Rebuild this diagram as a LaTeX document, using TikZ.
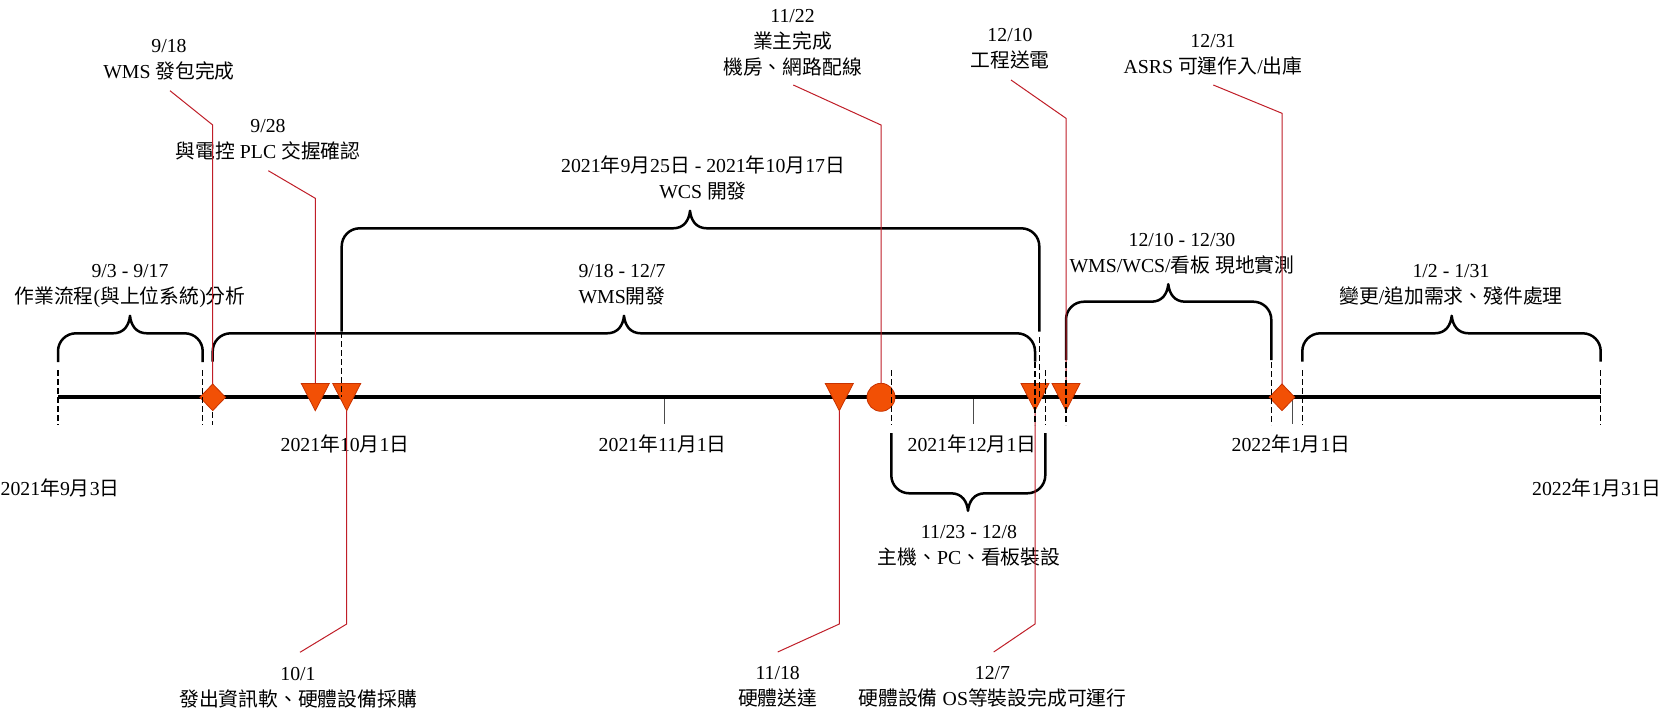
\documentclass[tikz,border=0pt]{standalone}
\usepackage{fontspec}
\setmainfont{Liberation Serif}
\newfontfamily\cjk{Noto Sans CJK TC}
\usetikzlibrary{shapes.geometric}
\newcommand\zh[1]{{\cjk #1}}
\newcommand\sv{\rule[-5pt]{0pt}{23pt}}
\definecolor{markfill}{RGB}{242,80,5}
\definecolor{markdraw}{RGB}{200,50,0}
\definecolor{calloutred}{RGB}{192,30,40}
% brace: xL xR xtip yh yend dir(+1 tip up, -1 tip down)
\newcommand\drawbrace[6]{%
  \draw[bracestyle] (#1,#5) -- (#1,{#4+18*(#6)})
    .. controls (#1,{#4+8*(#6)}) and ({#1+8},#4) .. ({#1+18},#4)
    -- ({#3-17},#4)
    .. controls ({#3-6},#4) and ({#3-1},{#4-8*(#6)}) .. (#3,{#4-17.5*(#6)})
    .. controls ({#3+1},{#4-8*(#6)}) and ({#3+6},#4) .. ({#3+17},#4)
    -- ({#2-18},#4)
    .. controls ({#2-8},#4) and (#2,{#4+8*(#6)}) .. (#2,{#4+18*(#6)})
    -- (#2,#5);}
% down triangle: name, x
\newcommand\tri[2]{%
  \filldraw[markstyle] ({#2-14},383.5) -- ({#2+14},383.5) -- (#2,410.7) -- cycle;
  \coordinate (#1top) at (#2,383.5);
  \coordinate (#1tip) at (#2,410.7);}
\begin{document}
\begin{tikzpicture}[x=1pt,y=-1pt,
  lbl/.style={font=\fontsize{19.8pt}{26pt}\selectfont, align=center, inner sep=0pt},
  axisline/.style={line width=4pt},
  bracestyle/.style={line width=2.5pt, line join=round},
  dashline/.style={line width=1.3pt, dash pattern=on 6pt off 3pt},
  tickline/.style={line width=1pt, black!70},
  callout/.style={line width=1pt, draw=calloutred},
  markstyle/.style={fill=markfill, draw=markdraw, line width=0.8pt},
]
\fill[white] (0,0) rectangle (1663,710);
\path[use as bounding box] (0,0) rectangle (1663,710);

% ---- labels ----
\node[lbl] (l918) at (169,59.3) {\sv 9/18\\\sv WMS \zh{發包完成}};
\node[lbl] (l928) at (268,138.5) {\sv 9/28\\\sv \zh{與電控} PLC \zh{交握確認}};
\node[lbl] (l1122) at (792.6,41.9) {\sv 11/22\\\sv \zh{業主完成}\\\sv \zh{機房、網路配線}};
\node[lbl] (l1210) at (1010,47.7) {\sv 12/10\\\sv \zh{工程送電}};
\node[lbl] (l1231) at (1213,53.5) {\sv 12/31\\\sv ASRS \zh{可運作入}/\zh{出庫}};
\node[lbl] (lwcs) at (703,178.8) {\sv 2021\zh{年}9\zh{月}25\zh{日} - 2021\zh{年}10\zh{月}17\zh{日}\\\sv WCS \zh{開發}};
\node[lbl] (lana) at (130,284.3) {\sv 9/3 - 9/17\\\sv \zh{作業流程}(\zh{與上位系統})\zh{分析}};
\node[lbl] (lwms) at (622,284.3) {\sv 9/18 - 12/7\\\sv WMS\zh{開發}};
\node[lbl] (ltest) at (1182,252.7) {\sv 12/10 - 12/30\\\sv WMS/WCS/\zh{看板} \zh{現地實測}};
\node[lbl] (lchg) at (1451,284) {\sv 1/2 - 1/31\\\sv \zh{變更}/\zh{追加需求、殘件處理}};
\node[lbl] (linst) at (969,544.7) {\sv 11/23 - 12/8\\\sv \zh{主機、}PC\zh{、看板裝設}};
\node[lbl] (l101) at (298,686.5) {\sv 10/1\\\sv \zh{發出資訊軟、硬體設備採購}};
\node[lbl] (l1118) at (777.7,686) {\sv 11/18\\\sv \zh{硬體送達}};
\node[lbl] (l127) at (992.5,686) {\sv 12/7\\\sv \zh{硬體設備} OS\zh{等裝設完成可運行}};

\node[lbl, anchor=west] (d0903) at (0.5,489) {\sv 2021\zh{年}9\zh{月}3\zh{日}};
\node[lbl] (d1001) at (345,445) {\sv 2021\zh{年}10\zh{月}1\zh{日}};
\node[lbl] (d1101) at (662.7,445) {\sv 2021\zh{年}11\zh{月}1\zh{日}};
\node[lbl] (d1201) at (972,445) {\sv 2021\zh{年}12\zh{月}1\zh{日}};
\node[lbl] (d0101) at (1291,445) {\sv 2022\zh{年}1\zh{月}1\zh{日}};
\node[lbl, anchor=east] (d0131) at (1661,489) {\sv 2022\zh{年}1\zh{月}31\zh{日}};

% ---- ticks ----
\draw[tickline] (664.3,399) -- (664.3,424);
\draw[tickline] (973,399) -- (973,424);
\draw[tickline] (1292,399) -- (1292,424);

% ---- axis ----
\coordinate (axL) at (58,397.3);
\coordinate (axR) at (1600.7,397.3);
\draw[axisline] (axL) -- (axR);

% ---- braces ----
\drawbrace{58}{202.7}{130}{333.3}{362}{1}
\drawbrace{212.7}{1035}{624}{333.3}{361.7}{1}
\drawbrace{341.7}{1039.3}{690}{228.3}{331.7}{1}
\drawbrace{1066}{1271.3}{1168.3}{301.7}{360}{1}
\drawbrace{1302.3}{1600.7}{1451.7}{333.3}{361.7}{1}
\drawbrace{891.3}{1045.3}{968}{493.3}{433}{-1}

% ---- callout bend points ----
\coordinate (a918) at (170,90.7);   \coordinate (b918) at (212.7,125);
\coordinate (a928) at (268.3,170.7); \coordinate (b928) at (315.3,198.3);
\coordinate (a101) at (300,652.3);  \coordinate (b101) at (346.7,624);
\coordinate (a1118) at (777.7,652); \coordinate (b1118) at (839.3,624);
\coordinate (a1122) at (793.3,85);  \coordinate (b1122) at (881,125);
\coordinate (a127) at (993.7,652);  \coordinate (b127) at (1035,624);
\coordinate (a1210) at (1011,80);   \coordinate (b1210) at (1066,118.3);
\coordinate (a1231) at (1213.3,85); \coordinate (b1231) at (1282,113.3);

% ---- markers positions (for callouts) ----
\coordinate (t928top) at (315.3,383.5);
\coordinate (t101tip) at (346.7,410.7);
\coordinate (t1118tip) at (839.3,410.7);
\coordinate (t127tip) at (1035,410.7);
\coordinate (t1210top) at (1066,383.5);

% ---- callouts ----
\draw[callout] (a918) -- (b918) -- (212.7,384);
\draw[callout] (a928) -- (b928) -- (t928top);
\draw[callout] (t101tip) -- (b101) -- (a101);
\draw[callout] (t1118tip) -- (b1118) -- (a1118);
\draw[callout] (a1122) -- (b1122) -- (881,383);
\draw[callout] (t127tip) -- (b127) -- (a127);
\draw[callout] (a1210) -- (b1210) -- (t1210top);
\draw[callout] (a1231) -- (b1231) -- (1282,384);

% ---- markers ----
\node[markstyle, diamond, minimum width=26pt, minimum height=27pt, inner sep=0pt] (m918) at (212.7,397.3) {};
\tri{t928}{315.3}
\tri{t101}{346.7}
\tri{t1118}{839.3}
\node[markstyle, circle, minimum size=28pt, inner sep=0pt] (m1122) at (881,397.3) {};
\tri{t127}{1035}
\tri{t1210}{1066}
\node[markstyle, diamond, minimum width=26pt, minimum height=27pt, inner sep=0pt] (m1231) at (1282,397.3) {};

% ---- dashed guides ----
\draw[dashline] (58,370) -- (58,425);
\draw[dashline] (202.7,370) -- (202.7,425);
\draw[dashline] (212.7,412) -- (212.7,425);
\draw[dashline] (341.7,332) -- (341.7,397);
\draw[dashline] (891.3,370) -- (891.3,425);
\draw[dashline] (1035,362) -- (1035,425);
\draw[dashline] (1039.3,337) -- (1039.3,397);
\draw[dashline] (1045.3,370) -- (1045.3,425);
\draw[dashline] (1066,362) -- (1066,425);
\draw[dashline] (1271.3,362) -- (1271.3,425);
\draw[dashline] (1302.3,370) -- (1302.3,425);
\draw[dashline] (1600.7,370) -- (1600.7,425);
\end{tikzpicture}
\end{document}
